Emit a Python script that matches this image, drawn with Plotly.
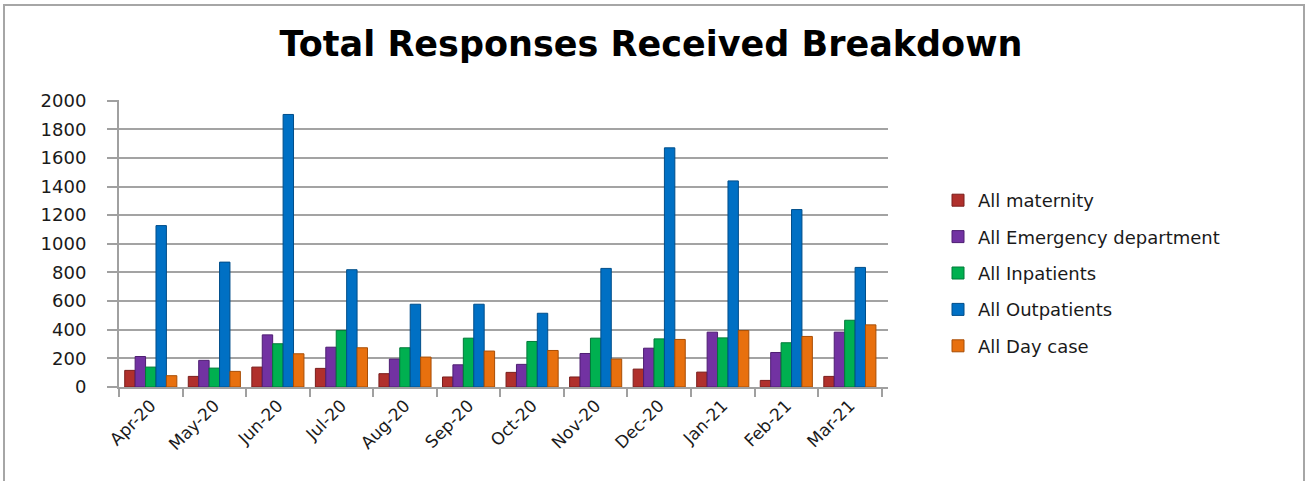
import plotly.graph_objects as go

# Monthly response counts, April 2020 to March 2021
months = ["Apr-20", "May-20", "Jun-20", "Jul-20", "Aug-20", "Sep-20",
          "Oct-20", "Nov-20", "Dec-20", "Jan-21", "Feb-21", "Mar-21"]

maternity = [116, 74, 139, 130, 93, 70, 102, 70, 125, 104, 46, 74]
emergency = [213, 186, 364, 278, 195, 155, 158, 234, 271, 383, 241, 383]
inpatients = [139, 132, 302, 394, 274, 341, 318, 341, 336, 343, 309, 466]
outpatients = [1127, 872, 1903, 819, 578, 578, 515, 828, 1670, 1439, 1239, 835]
day_case = [79, 109, 232, 274, 209, 251, 255, 195, 332, 394, 353, 434]

series_names = ["All maternity", "All Emergency department", "All Inpatients",
                "All Outpatients", "All Day case"]
series_values = [maternity, emergency, inpatients, outpatients, day_case]
fill_colors = ["#B0302C", "#7232A2", "#00B050", "#0070C4", "#E8700E"]
edge_colors = ["#7A1E1C", "#4E1E72", "#007A38", "#004E8A", "#A84E06"]

y_ticks = list(range(0, 2001, 200))

fig = go.Figure()
for i, (name, vals) in enumerate(zip(series_names, series_values)):
    fig.add_trace(go.Bar(
        x=months, y=vals, name=name, legendgroup=f"g{i}",
        marker=dict(color=fill_colors[i],
                    line=dict(color=edge_colors[i], width=1)),
    ))

W, H = 1306, 481
left, right, top, bottom = 119, 888, 100, 387

fig.update_layout(
    width=W, height=H,
    margin=dict(l=left, r=W - right, t=top, b=H - bottom, pad=0),
    paper_bgcolor="white", plot_bgcolor="white",
    barmode="group", bargap=0.18, bargroupgap=0.0,
    font=dict(family="DejaVu Sans", color="#1a1a1a"),
    title=dict(text="<b>Total Responses Received Breakdown</b>",
               font=dict(family="DejaVu Sans", size=35, color="#000000"),
               x=651 / W, xanchor="center", xref="container",
               y=1 - 44 / H, yanchor="middle", yref="container"),
    legend=dict(xref="container", yref="container",
                x=938 / W, y=1 - 182 / H, xanchor="left", yanchor="top",
                font=dict(family="DejaVu Sans", size=18, color="#1a1a1a"),
                tracegroupgap=10, bgcolor="rgba(0,0,0,0)"),
    showlegend=True,
    shapes=[dict(type="rect", xref="paper", yref="paper",
                 x0=-left / (right - left) + 4 / (right - left),
                 x1=1 + (W - 2 - right) / (right - left),
                 y0=-(H - bottom + 10) / (bottom - top),
                 y1=1 + (top - 5) / (bottom - top),
                 line=dict(color="#A6A6A6", width=2), layer="below")],
)

fig.update_xaxes(
    type="category", range=[-0.5, 11.6],
    tickangle=-45, tickfont=dict(size=17, color="#1a1a1a"),
    showline=True, linecolor="#A0A0A0", linewidth=2,
    ticks="outside", ticklen=8, tickcolor="#A0A0A0", tickwidth=2,
    tickson="boundaries", showgrid=False,
)
fig.update_yaxes(
    range=[0, 2004], tickvals=y_ticks, ticktext=[str(v) for v in y_ticks],
    tickfont=dict(size=18, color="#1a1a1a"),
    showline=True, linecolor="#A0A0A0", linewidth=2,
    ticks="outside", ticklen=10, tickcolor="#A0A0A0", tickwidth=2,
    ticklabelstandoff=17,
    showgrid=True, gridcolor="#A3A3A3", gridwidth=2,
    zeroline=False,
)

fig.write_html("out.html")
